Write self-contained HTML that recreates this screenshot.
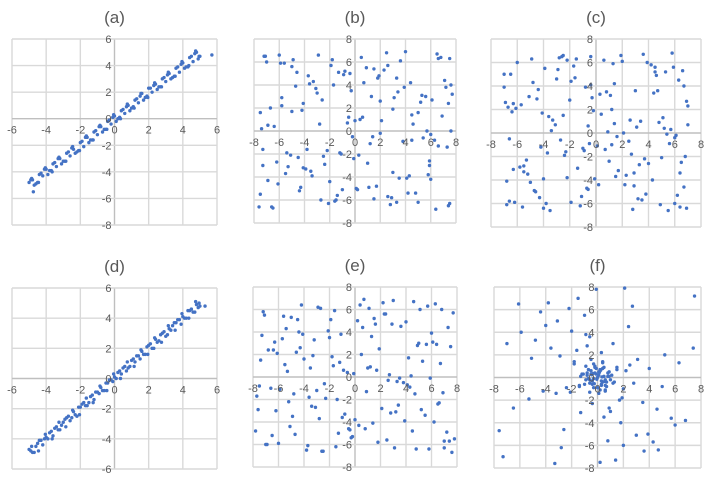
<!DOCTYPE html>
<html><head><meta charset="utf-8"><style>
html,body{margin:0;padding:0;background:#fff;width:710px;height:479px;overflow:hidden}
svg{display:block;font-family:"Liberation Sans",sans-serif}
</style></head><body>
<svg id="fig" width="710" height="479" viewBox="0 0 710 479"></svg>
<script>
const aX=[-5,-4.8,-4.6,-4.4,-4.2,-4,-3.8,-3.6,-3.4,-3.2,-3,-2.8,-2.6,-2.4,-2.2,-2,-1.8,-1.6,-1.4,-1.2,-1,-0.8,-0.6,-0.4,-0.2,0,0.2,0.4,0.6,0.8,1,1.2,1.4,1.6,1.8,2,2.2,2.4,2.6,2.8,3,3.2,3.4,3.6,3.8,4,4.2,4.4,4.6,4.8,5,5.7,-4.9,-4.5,-4.1,-3.7,-3.3,-2.9,-2.5,-2.1,-1.7,-1.3,-0.9,-0.5,-0.1,0.3,0.7,1.1,1.5,1.9,2.3,2.7,3.1,3.5,3.9,4.3,4.7,4.95,-4.7,-4.3,-3.9,-3.5,-3.1,-2.7,-2.3,-1.9,-1.5,-1.1,-0.7,-0.3,0.1,0.5,0.9,1.3,1.7,2.1,2.5,2.9,3.3,3.7,4.1,4.5,4.9,-4.75,-4.85,-4.45,-4.05,-3.65,-3.25,-2.85,-2.45,-2.05,-1.65,-1.25,-0.85,-0.45,-0.05,0.35,0.75,1.15,1.55,1.95,2.35,2.75,3.15,3.55,3.95,4.35,4.75];
const aY=[-4.8,-4.6,-4.9,-4.2,-4.3,-3.8,-3.9,-3.4,-3.6,-3.0,-3.2,-2.6,-2.8,-2.3,-2.5,-1.8,-2.1,-1.4,-1.6,-1.0,-1.2,-0.6,-0.8,-0.2,-0.4,0.2,0.0,0.6,0.4,1.0,0.8,1.4,1.2,1.9,1.6,2.3,2.0,2.6,2.4,3.0,2.8,3.4,3.1,3.8,3.5,4.2,3.9,4.6,4.3,5.0,4.7,4.8,-4.6,-4.8,-3.8,-3.9,-3.0,-3.2,-2.2,-2.4,-1.4,-1.6,-0.6,-0.8,0.1,0.1,0.9,0.9,1.7,1.7,2.5,2.4,3.3,3.2,4.1,3.9,4.9,4.7,-5.0,-4.1,-4.2,-3.3,-3.4,-2.5,-2.6,-1.7,-1.8,-0.9,-1.0,-0.1,-0.2,0.7,0.6,1.5,1.4,2.3,2.2,3.1,3.0,3.9,3.8,4.7,4.5,-5.5,-4.5,-4.8,-3.7,-4.0,-2.9,-3.2,-2.1,-2.4,-1.3,-1.6,-0.5,-0.8,0.3,0.0,1.1,0.8,1.9,1.6,2.7,2.4,3.5,3.2,4.3,4.0,5.1];
const dX=[-5,-4.8,-4.6,-4.4,-4.2,-4,-3.8,-3.6,-3.4,-3.2,-3,-2.8,-2.6,-2.4,-2.2,-2,-1.8,-1.6,-1.4,-1.2,-1,-0.8,-0.6,-0.4,-0.2,0,0.2,0.4,0.6,0.8,1,1.2,1.4,1.6,1.8,2,2.2,2.4,2.6,2.8,3,3.2,3.4,3.6,3.8,4,4.2,4.4,4.6,4.8,5,5.3,-4.9,-4.5,-4.1,-3.7,-3.3,-2.9,-2.5,-2.1,-1.7,-1.3,-0.9,-0.5,-0.1,0.3,0.7,1.1,1.5,1.9,2.3,2.7,3.1,3.5,3.9,4.3,4.7,4.95,-4.7,-4.3,-3.9,-3.5,-3.1,-2.7,-2.3,-1.9,-1.5,-1.1,-0.7,-0.3,0.1,0.5,0.9,1.3,1.7,2.1,2.5,2.9,3.3,3.7,4.1,4.5,4.9,-4.85,-4.45,-4.05,-3.65,-3.25,-2.85,-2.45,-2.05,-1.65,-1.25,-0.85,-0.45,-0.05,0.35,0.75,1.15,1.55,1.95,2.35,2.75,3.15,3.55,3.95,4.35,4.75];
const dY=[-4.7,-4.9,-4.5,-4.1,-4.4,-3.9,-3.6,-3.8,-3.2,-3.4,-2.9,-2.6,-2.8,-2.2,-2.5,-1.9,-1.6,-1.8,-1.2,-1.4,-0.9,-0.6,-0.8,-0.3,-0.1,0.1,0.4,0.3,0.8,0.7,1.2,1.1,1.5,1.8,1.6,2.2,2.0,2.6,2.5,3.0,2.8,3.3,3.5,3.7,3.9,4.1,4.0,4.5,4.4,4.9,4.8,4.8,-4.8,-4.3,-4.0,-3.5,-3.4,-2.7,-2.6,-1.9,-1.8,-1.1,-1.0,-0.3,-0.2,0.5,0.5,1.3,1.3,2.1,2.0,2.9,2.9,3.7,3.6,4.5,4.4,5.0,-4.9,-4.1,-4.0,-3.3,-3.1,-2.5,-2.4,-1.7,-1.6,-0.9,-0.8,-0.1,0.0,0.7,0.8,1.5,1.6,2.3,2.4,3.1,3.2,3.9,4.0,4.6,4.7,-4.5,-4.8,-3.7,-4.0,-2.9,-3.2,-2.1,-2.4,-1.3,-1.6,-0.5,-0.8,0.3,0.0,1.1,0.8,1.9,1.6,2.7,2.4,3.5,3.2,4.3,4.0,5.1];
const bX=[-7.2,-5.1,-3.3,-1.4,0.6,2.5,4.3,6.1,7.5,-6.4,-4.6,-2.2,-0.3,1.7,3.6,5.4,7.1,-7.6,-5.8,-3.9,-1.9,0.2,2.1,3.9,5.9,6.8,-6.9,-4.2,-2.7,-0.9,1.2,3.1,4.8,6.5,-7.4,-5.5,-3.6,-1.1,0.9,2.8,4.5,6.3,7.7,-6.1,-4.9,-2.4,-0.6,1.5,3.3,5.2,7.3,-7.0,-5.3,-3.1,-1.6,0.4,2.3,4.1,6.0,-6.7,-4.4,-2.9,-0.1,1.9,3.8,5.6,7.4,-7.5,-5.9,-3.5,-1.2,0.7,2.6,4.6,6.6,-6.2,-4.1,-2.0,-0.4,1.4,3.4,5.0,6.9,-7.3,-5.0,-3.8,-1.7,0.1,2.0,4.0,5.8,7.6,-6.5,-4.7,-2.5,-0.8,1.1,3.0,5.3,6.4,-6.9,-5.6,-4.1,-2.6,-1.0,0.5,2.0,3.5,5.0,6.6,7.6,-7.5,-6.0,-4.5,-3.0,-1.5,0.0,1.5,3.0,4.5,6.0,7.4,-7.1,-5.4,-3.7,-2.1,-0.5,1.0,2.6,4.2,5.7,7.2,-6.6,-5.0,-3.4,-1.8,-0.2,1.3,2.9,4.4,5.9,7.5,-7.3,-5.8,-4.3,-2.8,-1.3,0.3,1.8,3.3,4.9,6.4];
const bY=[6.5,-2.1,4.3,-5.6,1.2,6.8,-3.9,2.7,-6.3,0.4,5.1,-1.7,3.5,-4.8,6.1,-0.6,4.4,-6.6,2.2,-3.3,5.7,-5.1,0.9,3.8,-2.6,6.4,-4.3,1.8,-6.0,4.9,-1.1,2.9,-5.4,6.7,0.2,-3.7,4.1,-2.0,5.5,-6.4,1.4,-0.8,3.2,-4.6,6.2,-2.9,0.7,-5.9,4.6,2.5,-1.4,6.0,-3.1,3.7,-6.1,1.0,5.3,-4.1,-0.3,2.0,-5.2,6.6,-2.4,4.8,-0.9,3.0,-6.5,1.6,5.9,-3.5,-1.9,4.2,-5.7,0.6,6.3,-2.7,2.4,-4.4,5.0,-0.5,3.4,-6.2,1.3,-3.0,5.6,-1.6,4.0,-5.0,2.6,6.9,-3.8,0.0,-6.7,3.9,-2.2,5.2,-4.9,1.9,3.1,-6.8,0.5,5.9,-3.2,2.7,-5.1,6.4,-0.2,-4.1,1.6,-1.3,4.0,-5.5,6.6,-2.3,3.3,-6.0,0.9,5.4,-3.6,-0.8,-4.2,2.4,6.5,-1.9,4.8,-6.3,1.2,-2.8,5.7,-5.4,0.0,3.8,-6.6,1.7,-3.9,6.2,-0.5,3.0,-5.8,4.2,-3.0,6.3,-1.6,2.9,-4.9,0.6,5.1,-2.1,4.6,-6.2];
const cX=[-6.8,-4.9,-3.1,-1.2,0.8,2.7,4.5,6.4,-6.1,-4.3,-2.5,-0.5,1.4,3.3,5.1,6.9,-6.5,-4.0,-2.0,0.1,2.0,3.8,5.7,-7.0,-5.3,-3.5,-1.6,0.4,2.3,4.2,6.0,-6.3,-4.6,-2.8,-0.9,1.1,2.9,4.8,6.6,-5.8,-3.8,-1.9,-0.2,1.7,3.6,5.4,7.0,-6.6,-4.4,-2.3,-0.7,1.3,3.1,5.0,6.7,-5.6,-3.3,-1.4,0.6,2.5,4.4,6.2,-6.9,-5.0,-2.9,-1.0,0.9,2.8,4.6,6.5,-6.0,-4.1,-2.2,-0.3,1.6,3.5,5.3,6.8,-6.7,-4.7,-2.6,-0.6,1.2,3.0,4.9,6.3,-5.5,-3.6,-1.7,0.2,2.1,4.0,5.8,-6.2,-4.5,-2.4,-0.4,1.5,3.4,5.5,-6.4,-5.2,-3.9,-2.7,-1.1,0.3,1.9,3.7,5.2,6.7,-6.8,-5.7,-4.2,-3.0,-1.5,-0.1,1.4,3.2,4.7,6.1,-7.0,-5.5,-4.0,-2.5,-0.8,0.7,2.2,3.9,5.6,6.9,-6.3,-4.8,-3.4,-1.9,-0.4,1.0,2.6,4.3,5.9,6.4,-6.6,-5.1,-3.7,-2.2,-0.6,1.2,2.9,4.5,6.0,7.0];
const cY=[-4.1,6.3,0.7,-6.2,3.5,-1.8,5.6,-3.4,2.1,-5.5,6.6,-0.9,4.2,-2.7,1.3,-6.4,5.0,-3.9,2.8,-1.1,6.1,-5.2,0.3,3.9,-2.3,-6.6,4.7,1.6,-3.6,5.8,-0.4,2.5,-5.0,6.4,-1.5,3.2,-4.5,0.9,5.3,-2.9,-6.0,4.4,1.9,-3.2,6.7,-0.1,2.3,-5.8,3.7,-1.6,-4.7,5.9,0.5,-2.1,4.0,-6.3,1.1,-3.0,6.2,-0.7,3.4,-5.3,2.6,-4.2,5.4,-1.3,0.1,-6.5,4.9,-2.5,6.0,1.7,-3.8,3.0,-0.3,-5.7,5.2,-2.0,2.2,-4.9,6.5,0.6,-1.0,3.6,-6.1,4.5,-3.3,1.4,5.7,-4.4,0.0,-2.6,6.8,-5.9,2.9,-1.9,4.1,-3.7,1.0,-6.6,1.8,-3.5,5.5,-0.6,-5.4,3.3,6.6,-2.2,0.4,-4.6,-6.1,2.4,-1.2,4.6,6.3,-3.9,0.8,-5.6,3.6,-0.2,5.0,-2.8,-6.4,1.5,3.9,-1.4,-4.4,6.0,-0.9,2.7,-3.1,4.3,0.2,-5.9,6.5,-2.4,1.1,-4.0,5.6,-6.3,-0.5,3.1,-1.7,6.2,-4.8,2.0,-3.4,5.2,-6.0,0.7];
const eX=[-7.6,-5.6,-3.7,-1.8,0.3,2.2,4.1,6.0,7.8,-6.8,-4.8,-2.9,-1.0,1.0,2.9,4.8,6.7,-7.2,-5.2,-3.2,-1.3,0.7,2.6,4.5,6.4,-6.6,-4.5,-2.6,-0.6,1.3,3.2,5.1,7.0,-7.4,-5.4,-3.4,-1.5,0.5,2.4,4.3,6.2,-6.3,-4.2,-2.3,-0.2,1.7,3.6,5.5,7.5,-7.0,-5.0,-3.0,-1.1,0.8,2.7,4.6,6.5,-6.0,-4.0,-2.1,0.0,1.9,3.8,5.7,7.2,-7.7,-5.7,-3.8,-1.7,0.2,2.1,4.0,5.9,-6.5,-4.6,-2.7,-0.8,1.2,3.1,5.0,6.9,-7.1,-5.1,-3.3,-1.4,0.6,2.5,4.4,6.3,-6.2,-4.3,-2.4,-0.4,1.5,3.4,5.3,7.6,-7.3,-5.9,-4.4,-2.8,-1.2,0.4,1.8,3.3,4.9,6.6,7.7,-6.9,-5.3,-3.6,-2.0,-0.5,1.1,2.8,4.2,5.8,7.3,-7.5,-6.1,-4.7,-3.1,-1.6,-0.1,1.4,3.0,4.7,6.1,7.0,-6.4,-4.9,-3.5,-1.9,-0.3,1.6,3.5,5.2,6.8,-7.8,-5.5,-4.1,-2.5,-0.9,0.9,2.3,3.9,5.6,7.4];
const eY=[-2.9,5.4,-6.1,1.8,-4.3,6.6,-0.7,3.9,-5.5,2.4,-1.5,6.2,-3.6,0.8,4.7,-6.4,1.2,5.8,-2.2,3.3,-5.0,6.9,-0.3,-4.8,2.9,-1.0,5.1,-6.6,0.4,3.6,-3.1,6.0,-5.7,1.5,4.3,-2.6,-6.2,2.0,5.6,-0.9,-4.0,3.1,6.4,-1.9,-5.3,0.6,4.5,-3.4,2.7,-6.0,5.3,-1.2,3.8,-4.6,0.2,6.7,-2.4,-5.9,1.6,4.1,-3.8,2.5,-0.5,6.3,-4.9,-1.7,3.4,-6.5,1.0,5.0,-2.8,4.9,-0.1,-5.2,2.2,6.1,-3.3,0.9,-6.3,3.0,-1.4,5.5,-4.4,1.9,-2.0,4.4,-5.6,0.1,6.5,-3.0,2.6,-0.6,-4.7,5.2,-2.5,1.4,-6.7,3.7,-1.1,4.0,-3.7,1.3,6.4,-5.8,-0.4,2.8,-2.3,5.7,-6.0,0.5,-1.8,3.5,-4.6,6.1,-3.2,1.7,-6.4,4.4,-0.8,2.1,-5.1,-2.7,5.9,0.3,-4.1,6.8,-1.5,3.1,-6.3,2.4,-3.5,0.8,5.1,-5.4,4.7,-0.1,-2.9,6.0,-4.8,1.1,3.8,-6.6,0.6,-1.3,5.6,-3.9,2.9,-5.7,4.5];
const fX=[0.1,-0.3,0.4,-0.5,0.2,0.6,-0.1,-0.6,0.3,0.8,-0.8,0.0,0.5,-0.4,-0.2,0.9,-0.9,0.2,0.7,-0.7,1.1,-1.0,0.4,-0.3,1.3,-1.2,0.1,0.6,-0.5,1.5,-1.4,-1.8,1.9,-2.1,2.2,0.3,-0.4,1.7,-1.6,2.5,-2.4,0.9,-0.8,2.8,-2.9,1.2,-1.3,3.1,-3.2,0.5,-0.6,3.5,-3.6,1.8,-2.0,4.0,-4.2,2.4,-2.6,4.6,-4.8,3.0,-3.1,5.2,-5.3,0.8,-1.0,5.7,-5.9,2.0,-2.2,6.3,-6.5,3.6,-3.8,6.8,-7.0,1.4,-1.5,7.4,-7.6,4.3,-4.4,0.2,-0.1,5.0,-5.1,2.7,-2.8,3.9,-4.0,6.0,-6.1,7.5,-7.3,1.0,-0.9,4.7,-3.3,2.1,0.0,0.3,-0.2,0.5,-0.6,0.2,-0.4,0.7,-0.1,0.4,-0.8,0.6,-0.3,0.1,-0.5,0.9,-0.7,0.3,-0.2,0.8,1.2,-1.1,0.6,-0.9,1.5,-1.4,0.4,-0.6,2.0,-1.8,0.15,-0.25,0.35,-0.45,0.55,-0.05,0.25,-0.35,1.0,-1.3];
const fY=[0.2,-0.1,-0.4,0.3,0.6,-0.2,0.8,-0.5,-0.7,0.1,0.4,-0.9,0.9,-0.3,1.0,0.5,-0.2,-1.1,-0.8,0.7,0.2,-0.6,1.3,1.2,-0.4,0.3,-1.4,-1.2,1.6,0.9,-0.7,1.4,-1.8,-1.3,0.6,2.2,-2.3,-2.0,2.4,1.1,-0.9,-2.7,2.8,-0.5,1.9,3.0,-3.1,1.6,-1.4,-3.5,3.6,-2.2,2.6,-4.0,4.1,0.8,-1.2,4.5,-4.6,-2.8,3.3,-5.1,5.0,2.0,-1.9,-5.6,5.5,-3.6,4.0,-6.0,6.1,1.3,-2.7,-6.5,6.6,-3.8,3.0,-7.3,7.0,2.6,-4.7,-5.7,5.8,-7.5,7.8,-0.8,1.7,6.3,-6.2,-5.0,4.6,-4.2,6.5,7.2,-7.0,-3.0,3.8,-6.4,-7.6,7.9,0.0,-0.3,0.4,0.1,-0.2,0.7,-0.6,-0.4,0.3,0.8,0.2,-0.7,-0.9,0.5,0.6,0.1,-0.1,-0.6,0.9,0.4,-0.5,0.3,-1.1,1.0,0.7,-0.8,1.4,-1.3,-1.0,1.2,0.45,-0.55,0.05,0.25,-0.35,-0.15,0.65,0.35,-0.2,0.1];
const tickVals=[-8,-6,-4,-2,0,2,4,6,8];

const NS='http://www.w3.org/2000/svg';
const svg=document.getElementById('fig');
function mk(t,a,p){const e=document.createElementNS(NS,t);for(const k in a)e.setAttribute(k,a[k]);(p||svg).appendChild(e);return e;}
function chart(id,title,L,R,T,B,xmin,xmax,ymin,ymax,xs,ys){
  const g=mk('g',{});
  
  
  const sx=v=>L+(v-xmin)/(xmax-xmin)*(R-L);
  const sy=v=>B-(v-ymin)/(ymax-ymin)*(B-T);
  const tt=mk('text',{x:(L+R)/2,y:T-16,'text-anchor':'middle','font-size':17,fill:'#595959'},g);
  tt.textContent=title;
  
  
  tickVals.filter(v=>v>=xmin&&v<=xmax).forEach(v=>{
    const l=mk('line',{x1:sx(v),x2:sx(v),y1:T,y2:B,stroke:v===0?'#bfbfbf':'#d9d9d9','stroke-width':1.4},g);
    
    
  });
  tickVals.filter(v=>v>=ymin&&v<=ymax).forEach(v=>{
    const l=mk('line',{x1:L,x2:R,y1:sy(v),y2:sy(v),stroke:v===0?'#bfbfbf':'#d9d9d9','stroke-width':1.4},g);
    
    
  });
  const n=Math.min(xs.length,ys.length);
  for(let i=0;i<n;i++){
    const c=mk('circle',{cx:sx(xs[i]),cy:sy(ys[i]),r:1.7,fill:'#4472c4'},g);
    
    
  }
  tickVals.filter(v=>v>=xmin&&v<=xmax).forEach(v=>{
    const t=mk('text',{x:sx(v),y:sy(0)+15,'text-anchor':'middle','font-size':11,fill:'#595959'},g);
    t.textContent=v;
    
    
  });
  tickVals.filter(v=>v>=ymin&&v<=ymax).forEach(v=>{
    const t=mk('text',{x:sx(0)-3,y:sy(v)+4,'text-anchor':'end','font-size':11,fill:'#595959'},g);
    t.textContent=v;
    
    
  });
}
chart('a','(a)',12,217,39,225,-6,6,-8,6,aX,aY);
chart('b','(b)',254,456,39,223,-8,8,-8,8,bX,bY);
chart('c','(c)',491,701,39,227,-8,8,-8,8,cX,cY);
chart('d','(d)',12,217,288,469,-6,6,-6,6,dX,dY);
chart('e','(e)',253,457,287,467,-8,8,-8,8,eX,eY);
chart('f','(f)',494,701,287,468,-8,8,-8,8,fX,fY);
</script>
</body></html>
